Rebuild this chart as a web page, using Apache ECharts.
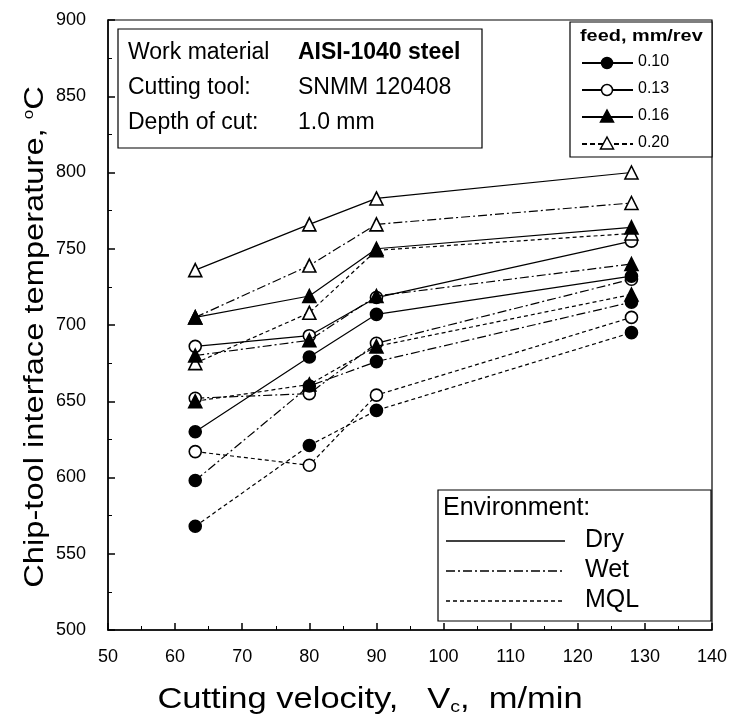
<!DOCTYPE html>
<html>
<head>
<meta charset="utf-8">
<script src="https://cdn.jsdelivr.net/npm/echarts@6/dist/echarts.min.js"></script>
<style>
  html, body { margin: 0; padding: 0; background: #fff; }
  #chart { width: 731px; height: 723px; }
</style>
</head>
<body>
<div id="chart"></div>
<script>
// cutting velocity, m/min
const velocity = [63, 80, 90, 128]

// chip-tool interface temperature, °C
const dry010 = [630, 679, 707, 732]
const dry013 = [686, 693, 718, 755]
const dry016 = [705, 719, 750, 764]
const dry020 = [736, 766, 783, 800]

const wet010 = [598, 660, 676, 715]
const wet013 = [652, 655, 688, 730]
const wet016 = [680, 690, 719, 740]
const wet020 = [705, 739, 766, 780]

const mql010 = [568, 621, 644, 695]
const mql013 = [617, 608, 654, 705]
const mql016 = [650, 661, 686, 720]
const mql020 = [675, 708, 749, 760]

const feeds = ['0.10', '0.13', '0.16', '0.20']
const environments = ['Dry', 'Wet', 'MQL']

const font = 'Liberation Sans, Arial, sans-serif'
const dashes = { Dry: 'solid', Wet: [9, 3, 2, 3], MQL: [4, 3] }
const marks = {
  '0.10': { symbol: 'circle', fill: '#000' },
  '0.13': { symbol: 'circle', fill: '#fff' },
  '0.16': { symbol: 'triangle', fill: '#000' },
  '0.20': { symbol: 'triangle', fill: '#fff' },
}

const table = {
  Dry: [dry010, dry013, dry016, dry020],
  Wet: [wet010, wet013, wet016, wet020],
  MQL: [mql010, mql013, mql016, mql020],
}

function makeSeries() {
  const out = []
  environments.forEach(env => {
    feeds.forEach((f, i) => {
      out.push({
        name: env + ' ' + f,
        type: 'line',
        data: velocity.map((v, k) => [v, table[env][i][k]]),
        symbol: marks[f].symbol,
        symbolSize: marks[f].symbol === 'circle' ? 12 : 13,
        itemStyle: { color: marks[f].fill, borderColor: '#000', borderWidth: 1.6 },
        lineStyle: { color: '#000', width: 1.2, type: dashes[env] },
        emphasis: { disabled: true },
        z: marks[f].fill === '#fff' ? 3 : 4,
      })
    })
  })
  return out
}

// legend pieces (boxes and text only, not data)
function feedLegend() {
  const x0 = 570, y0 = 22
  const els = [
    { type: 'rect', shape: { x: x0, y: y0, width: 142, height: 135 },
      style: { fill: '#fff', stroke: '#000', lineWidth: 1.2 } },
    { type: 'text', x: x0 + 10, y: y0 + 6, scaleX: 1.17,
      style: { text: 'feed, mm/rev', font: 'bold 17px ' + font, fill: '#000' } },
  ]
  feeds.forEach((f, i) => {
    const cy = y0 + 41 + i * 27
    const m = marks[f]
    els.push({ type: 'line', shape: { x1: x0 + 12, y1: cy, x2: x0 + 63, y2: cy },
      style: { stroke: '#000', lineWidth: 1.8, lineDash: i === 3 ? [5, 3] : null } })
    if (m.symbol === 'circle') {
      els.push({ type: 'circle', shape: { cx: x0 + 37, cy: cy, r: 5.5 },
        style: { fill: m.fill, stroke: '#000', lineWidth: 1.5 } })
    } else {
      els.push({ type: 'polygon', shape: { points: [[x0 + 37, cy - 7], [x0 + 43.5, cy + 5], [x0 + 30.5, cy + 5]] },
        style: { fill: m.fill, stroke: '#000', lineWidth: 1.5 } })
    }
    els.push({ type: 'text', x: x0 + 68, y: cy - 9,
      style: { text: f, font: '16px ' + font, fill: '#000' } })
  })
  return els
}

function envLegend() {
  const x0 = 438, y0 = 490
  const els = [
    { type: 'rect', shape: { x: x0, y: y0, width: 273, height: 131 },
      style: { fill: '#fff', stroke: '#000', lineWidth: 1.2 } },
    { type: 'text', x: x0 + 5, y: y0 + 6,
      style: { text: 'Environment:', font: '25px ' + font, fill: '#000' } },
  ]
  environments.forEach((e, i) => {
    const cy = y0 + 51 + i * 30
    els.push({ type: 'line', shape: { x1: x0 + 8, y1: cy, x2: x0 + 127, y2: cy },
      style: { stroke: '#000', lineWidth: 1.5, lineDash: dashes[e] === 'solid' ? null : dashes[e] } })
    els.push({ type: 'text', x: x0 + 147, y: cy - 13,
      style: { text: e, font: '25px ' + font, fill: '#000' } })
  })
  return els
}

function infoBox() {
  const x0 = 118, y0 = 29
  const rows = [
    ['Work material', 'AISI-1040 steel', true],
    ['Cutting tool:', 'SNMM 120408', false],
    ['Depth of cut:', '1.0 mm', false],
  ]
  const els = [
    { type: 'rect', shape: { x: x0, y: y0, width: 364, height: 119 },
      style: { fill: '#fff', stroke: '#000', lineWidth: 1.2 } },
  ]
  rows.forEach((r, i) => {
    const ty = y0 + 12 + i * 35
    els.push({ type: 'text', x: x0 + 10, y: ty,
      style: { text: r[0], font: '23px ' + font, fill: '#000' } })
    els.push({ type: 'text', x: x0 + 180, y: ty,
      style: { text: r[1], font: (r[2] ? 'bold ' : '') + '23px ' + font, fill: '#000' } })
  })
  return els
}

function titles() {
  return [
    { type: 'text', x: 370, y: 700, scaleX: 1.15,
      style: {
        text: '{a|Cutting velocity,   V}{s|c}{a|,  m/min}',
        align: 'center', verticalAlign: 'middle',
        rich: {
          a: { fontSize: 30, fontFamily: font, fill: '#000' },
          s: { fontSize: 17, fontFamily: font, fill: '#000', padding: [15, 0, 0, 0] },
        },
      } },
    { type: 'text', x: 36, y: 337, rotation: Math.PI / 2, scaleX: 1.21,
      style: {
        text: '{a|Chip-tool interface temperature, }{s|o}{a|C}',
        align: 'center', verticalAlign: 'middle',
        rich: {
          a: { fontSize: 27, fontFamily: font, fill: '#000' },
          s: { fontSize: 14, fontFamily: font, fill: '#000', padding: [0, 0, 14, 0] },
        },
      } },
  ]
}

const chart = echarts.init(document.getElementById('chart'))
chart.setOption({
  animation: false,
  backgroundColor: '#fff',
  grid: { left: 108, right: 19, top: 20, bottom: 93, show: true, borderColor: '#000', borderWidth: 1.2 },
  xAxis: {
    type: 'value', min: 50, max: 140, interval: 10,
    axisLine: { lineStyle: { color: '#000', width: 1.5 } },
    axisTick: { inside: true, length: 7, lineStyle: { color: '#000', width: 1.5 } },
    minorTick: { show: true, splitNumber: 2, length: 4, lineStyle: { color: '#000' } },
    axisLabel: { color: '#000', fontSize: 18, fontFamily: font, margin: 18 },
    splitLine: { show: false },
  },
  yAxis: {
    type: 'value', min: 500, max: 900, interval: 50,
    axisLine: { lineStyle: { color: '#000', width: 1.5 } },
    axisTick: { inside: true, length: 7, lineStyle: { color: '#000', width: 1.5 } },
    minorTick: { show: true, splitNumber: 2, length: 4, lineStyle: { color: '#000' } },
    axisLabel: { color: '#000', fontSize: 18, fontFamily: font, margin: 22 },
    splitLine: { show: false },
  },
  series: makeSeries(),
  graphic: [...infoBox(), ...feedLegend(), ...envLegend(), ...titles()],
})
</script>
</body>
</html>
